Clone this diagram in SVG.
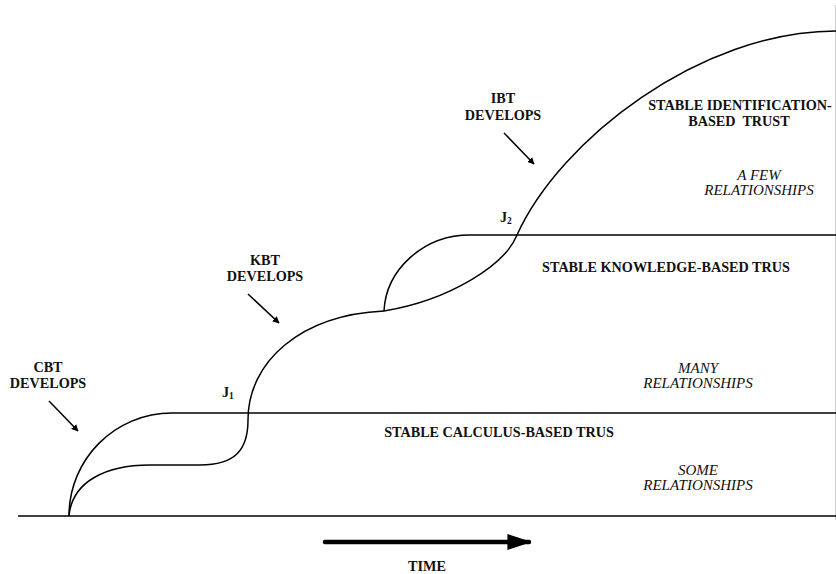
<svg xmlns="http://www.w3.org/2000/svg" width="836" height="574" viewBox="0 0 836 574">
  <style>
    .ln { fill: none; stroke: #000; stroke-width: 1.5; }
    .lbl { font-family: "Liberation Serif", "Times New Roman", serif; font-size: 14.2px; font-weight: bold; fill: #111; }
    .it { font-family: "Liberation Serif", "Times New Roman", serif; font-size: 15px; font-style: italic; fill: #111; }
    .sub { font-size: 9.5px; }
  </style>
  <defs>
    <marker id="head" viewBox="0 0 10 10" refX="9" refY="5" markerWidth="7" markerHeight="7" orient="auto" markerUnits="userSpaceOnUse">
      <path d="M0,0 L10,5 L0,10 Z" fill="#000"/>
    </marker>
    <marker id="bighead" viewBox="0 0 10 10" refX="9" refY="5" markerWidth="24" markerHeight="16" orient="auto" markerUnits="userSpaceOnUse" preserveAspectRatio="none">
      <path d="M0,0 L10,5 L0,10 Z" fill="#000"/>
    </marker>
  </defs>
  <rect width="836" height="574" fill="#fff"/>
  <line x1="835.5" y1="5" x2="835.5" y2="520" stroke="#cfcfcf" stroke-width="1"/>

  <!-- levels and growth curves -->
  <g id="connectors">
    <line class="ln" x1="18" y1="516" x2="836" y2="516"/>
    <line class="ln" x1="172" y1="413" x2="836" y2="413"/>
    <line class="ln" x1="470" y1="235" x2="836" y2="235"/>
    <!-- calculus-based rise to first plateau -->
    <path class="ln" d="M69,516 C69,459 115,413 172,413"/>
    <!-- calculus, then knowledge-based growth -->
    <path class="ln" d="M69,516 C72,482 105,465 150,465 L200,465 C235,465 248,450 248,420 C248,362 300,315 384,311"/>
    <!-- knowledge-based plateau arc -->
    <path class="ln" d="M384,311 C386,270 423,235 470,235"/>
    <!-- identification-based growth -->
    <path class="ln" d="M384,311 C450,300 505,265 517,235 C560,140 700,31 836,31"/>
    <!-- development arrows -->
    <line class="ln" stroke-width="1.3" x1="49" y1="401" x2="78" y2="431" marker-end="url(#head)"/>
    <line class="ln" stroke-width="1.3" x1="248" y1="294" x2="279" y2="323" marker-end="url(#head)"/>
    <line class="ln" stroke-width="1.3" x1="504" y1="133" x2="534" y2="164" marker-end="url(#head)"/>
    <line x1="325" y1="542" x2="529" y2="542" stroke="#000" stroke-width="4.5" stroke-linecap="round" marker-end="url(#bighead)"/>
  </g>

  <g id="cbt-develops">
    <text class="lbl" x="48" y="372" text-anchor="middle">CBT</text>
    <text class="lbl" x="48" y="388" text-anchor="middle">DEVELOPS</text>
  </g>
  <g id="j1">
    <text class="lbl" x="222" y="397">J<tspan class="sub" dy="2">1</tspan></text>
  </g>
  <g id="kbt-develops">
    <text class="lbl" x="265" y="265" text-anchor="middle">KBT</text>
    <text class="lbl" x="265" y="281" text-anchor="middle">DEVELOPS</text>
  </g>
  <g id="ibt-develops">
    <text class="lbl" x="503" y="103" text-anchor="middle">IBT</text>
    <text class="lbl" x="503" y="120" text-anchor="middle">DEVELOPS</text>
  </g>
  <g id="j2">
    <text class="lbl" x="500" y="222">J<tspan class="sub" dy="2">2</tspan></text>
  </g>
  <g id="stable-ibt">
    <text class="lbl" x="740" y="110" text-anchor="middle">STABLE IDENTIFICATION-</text>
    <text class="lbl" x="739" y="126" text-anchor="middle" xml:space="preserve">BASED  TRUST</text>
    <text class="it" x="759" y="180" text-anchor="middle">A FEW</text>
    <text class="it" x="759" y="195" text-anchor="middle">RELATIONSHIPS</text>
  </g>
  <g id="stable-kbt">
    <text class="lbl" x="666" y="272" text-anchor="middle">STABLE KNOWLEDGE-BASED TRUS</text>
    <text class="it" x="698" y="373" text-anchor="middle">MANY</text>
    <text class="it" x="698" y="388" text-anchor="middle">RELATIONSHIPS</text>
  </g>
  <g id="stable-cbt">
    <text class="lbl" x="499" y="437" text-anchor="middle">STABLE CALCULUS-BASED TRUS</text>
    <text class="it" x="698" y="475" text-anchor="middle">SOME</text>
    <text class="it" x="698" y="490" text-anchor="middle">RELATIONSHIPS</text>
  </g>
  <g id="time">
    <text class="lbl" x="427" y="571" text-anchor="middle">TIME</text>
  </g>
</svg>
